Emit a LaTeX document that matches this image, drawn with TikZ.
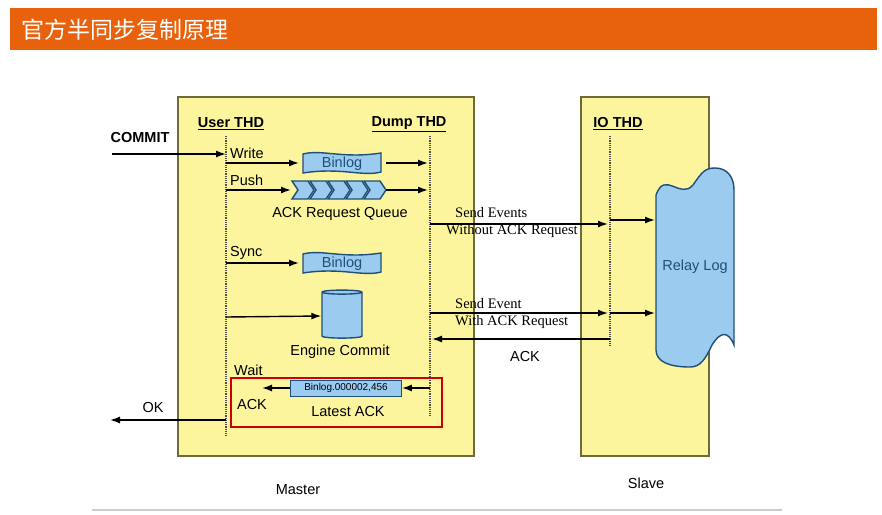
\documentclass[tikz,border=0pt]{standalone}
\usepackage{fontspec}
\setmainfont{Liberation Sans}
\newfontfamily\serifx{Liberation Serif}
\newfontfamily\cjk{Noto Sans CJK SC}
\usetikzlibrary{arrows.meta,shapes.geometric,shapes.symbols}
\definecolor{ylw}{HTML}{FCF59E}
\definecolor{bdr}{HTML}{6E6A3A}
\definecolor{blu}{HTML}{9CCBF0}
\definecolor{dblu}{HTML}{1F4E79}
\definecolor{org}{HTML}{E8610C}
\begin{document}
\begin{tikzpicture}[x=1pt,y=-1pt,
  arr/.style={-{Latex[length=10pt,width=7pt]},line width=1.4pt,black},
  dot/.style={densely dotted,line width=1.2pt,black!70},
  lbl/.style={font=\fontsize{14.5}{16}\selectfont,inner sep=0pt},
  hd/.style={font=\bfseries\fontsize{14.5}{16}\selectfont,inner sep=1pt},
  ser/.style={font=\serifx\fontsize{14.5}{16}\selectfont,inner sep=0pt,anchor=west},
  shp/.style={fill=blu,draw=dblu,line width=1.4pt},
  pics/binlog/.style={code={
    \draw[shp] (-39,-9) .. controls (-20,-14) and (0,-4) .. (39,-10) -- (39,9)
      .. controls (20,14) and (0,4) .. (-39,10) -- cycle;
    \node[font=\fontsize{14.5}{16}\selectfont,text=dblu] at (0,1) {Binlog};}}]
\useasboundingbox (0,0) rectangle (882,514);
\fill[white] (0,0) rectangle (882,514);
% title
\fill[org] (10,8) rectangle (877,50);
\node[anchor=west,text=white,font=\cjk\fontsize{23}{25}\selectfont] (title) at (18,30) {官方半同步复制原理};
% boxes
\draw[fill=ylw,draw=bdr,line width=1.5pt] (178,97) rectangle (474,456);
\draw[fill=ylw,draw=bdr,line width=1.5pt] (581,97) rectangle (709,456);
\node[lbl] (master) at (298,490) {Master};
\node[lbl] (slave) at (646,483) {Slave};
\draw[black!20,line width=1.2pt] (92,510) -- (782,510);
% headers
\node[hd] (uthd) at (231,124) {\underline{User THD}};
\node[hd] (dthd) at (409,124) {\underline{Dump THD}};
\node[hd] (iothd) at (618,124) {\underline{IO THD}};
\draw[dot] (226,136) -- (226,436);
\draw[dot] (430,136) -- (430,416);
\draw[dot] (610,136) -- (610,346);
\coordinate (u1) at (226,154); \coordinate (u2) at (226,163); \coordinate (u3) at (226,190);
\coordinate (u4) at (226,263); \coordinate (u5) at (226,317); \coordinate (u6) at (226,420);
\coordinate (d1) at (428,163); \coordinate (d2) at (428,190); \coordinate (d3) at (430,224);
\coordinate (d4) at (430,313); \coordinate (d5) at (432,339); \coordinate (d6) at (430,388);
\coordinate (i1) at (608,224); \coordinate (i2) at (608,313); \coordinate (i3) at (610,339);
\coordinate (i1b) at (610,220); \coordinate (i2b) at (610,313);
% commit
\node[font=\bfseries\fontsize{14.5}{16}\selectfont] (commit) at (140,138) {COMMIT};
\coordinate (cin) at (112,154);
\draw[arr] (cin) -- (u1);
% write
\node[lbl,anchor=west] (write) at (230,153) {Write};
\pic (bl1) at (342,163) {binlog};
\coordinate (bl1w) at (299,163); \coordinate (bl1e) at (386,163);
\draw[arr] (u2) -- (bl1w);
\draw[arr] (bl1e) -- (d1);
% push
\node[lbl,anchor=west] (push) at (230,180) {Push};
\foreach \i in {0,...,4}{
  \draw[shp] ({292+18*\i},181) -- ({308+18*\i},181) -- ({314+18*\i},190) -- ({308+18*\i},199)
    -- ({292+18*\i},199) -- ({298+18*\i},190) -- cycle;}
\coordinate (q1w) at (291,190); \coordinate (q1e) at (386,190);
\draw[arr] (u3) -- (q1w);
\draw[arr] (q1e) -- (d2);
\node[lbl] (queue) at (340,214) {ACK Request Queue};
% sync
\node[lbl,anchor=west] (sync) at (230,253) {Sync};
\pic (bl2) at (342,263) {binlog};
\coordinate (bl2w) at (299,263);
\draw[arr] (u4) -- (bl2w);
% engine commit
\node[cylinder,shape border rotate=90,aspect=0.6,minimum width=40pt,minimum height=48pt,shp] (eng) at (342,316) {};
\draw[arr] (u5) -- (eng.west);
\node[lbl] (englbl) at (340,352) {Engine Commit};
% sends
\node[ser] (se1) at (455,213) {Send Events};
\node[ser] (se2) at (446,231) {Without ACK Request};
\draw[arr] (d3) -- (i1);
\node[ser] (se3) at (455,304) {Send Event};
\node[ser] (se4) at (455,322) {With ACK Request};
\draw[arr] (d4) -- (i2);
\draw[arr] (i3) -- (d5);
\node[lbl] (acklbl) at (525,357) {ACK};
% relay log
\draw[shp] (656,195) .. controls (665,170) and (680,200) .. (693,185)
  .. controls (702,172) and (705,168) .. (715,168) .. controls (728,168) and (734,178) .. (734,190)
  -- (734,345) .. controls (728,330) and (720,332) .. (712,345)
  .. controls (705,360) and (700,367) .. (690,367) .. controls (670,367) and (656,362) .. (656,350) -- cycle;
\node[font=\fontsize{14.5}{16}\selectfont,text=dblu] (relay) at (695,267) {Relay Log};
\coordinate (rl1) at (655,220); \coordinate (rl2) at (655,313);
\draw[arr] (i1b) -- (rl1);
\draw[arr] (i2b) -- (rl2);
% wait ack
\node[lbl,anchor=west] (wait) at (234,370) {Wait};
\draw[red!80!black,line width=2pt] (231,378) rectangle (442,427);
\node[fill=blu,draw=dblu,line width=0.8pt,minimum width=111pt,minimum height=16pt,inner sep=0pt,font=\fontsize{10}{11}\selectfont] (blpos) at (346,388) {Binlog.000002,456};
\draw[arr] (d6) -- (blpos.east);
\coordinate (ackin) at (262,388);
\draw[arr] (blpos.west) -- (ackin);
\node[lbl] (ack2) at (252,405) {ACK};
\node[lbl] (latest) at (348,412) {Latest ACK};
\coordinate (okout) at (110,420);
\draw[arr] (u6) -- (okout);
\node[lbl] (ok) at (153,408) {OK};
\end{tikzpicture}
\end{document}
